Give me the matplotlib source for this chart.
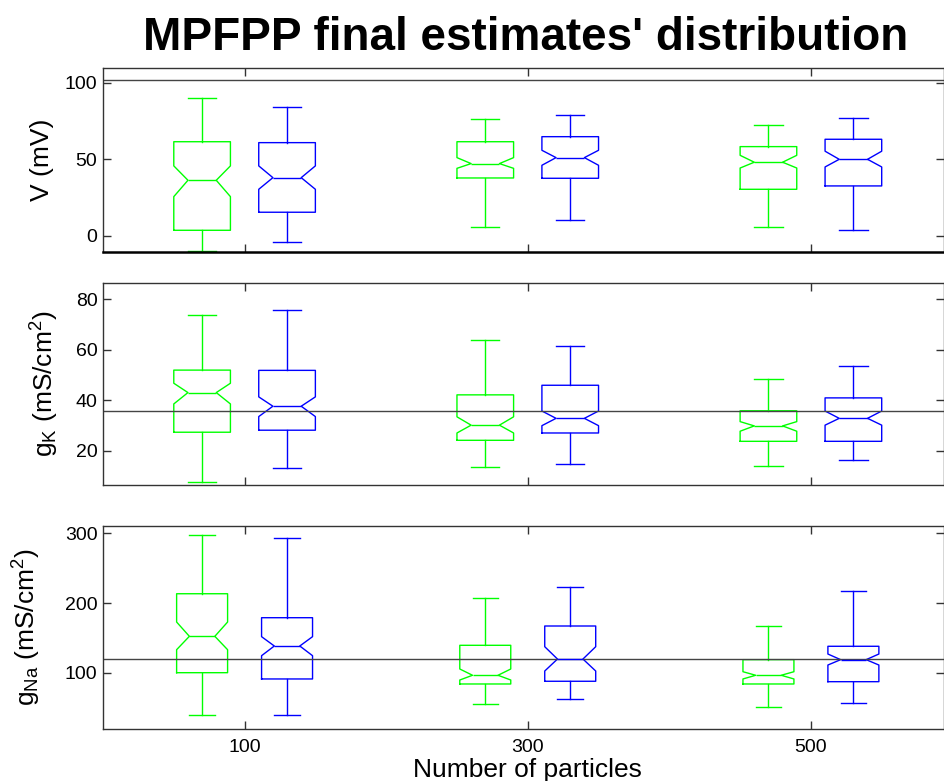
# Notched box plots of the MPFPP final estimates for three particle counts

import matplotlib
matplotlib.use("Agg")
import matplotlib.pyplot as plt

plt.rcParams["font.family"] = ["Liberation Sans", "DejaVu Sans"]
plt.rcParams["mathtext.fontset"] = "custom"
plt.rcParams["mathtext.rm"] = "Liberation Sans"
plt.rcParams["mathtext.it"] = "Liberation Sans:italic"

particles = ["100", "300", "500"]

# each row: lower whisker, q1, notch low, median, notch high, q3, upper whisker
v_green = [
    [-9.8, 3.5, 25.5, 36.2, 45.6, 61.4, 90.2],
    [5.5, 37.7, 44.0, 47.1, 51.0, 61.4, 76.1],
    [5.5, 30.3, 44.2, 48.0, 52.5, 58.2, 72.2],
]
v_blue = [
    [-4.3, 15.3, 30.3, 37.9, 45.6, 60.8, 84.3],
    [10.0, 37.5, 46.0, 51.0, 55.8, 64.7, 78.7],
    [3.5, 32.5, 44.9, 49.9, 55.2, 63.0, 77.1],
]
gk_green = [
    [7.6, 27.4, 38.6, 43.1, 46.8, 52.0, 73.7],
    [13.5, 24.2, 27.1, 30.2, 33.5, 42.2, 63.9],
    [14.2, 23.8, 27.8, 29.9, 31.6, 35.9, 48.5],
]
gk_blue = [
    [13.2, 28.2, 33.6, 37.7, 41.4, 51.9, 75.9],
    [15.0, 27.1, 30.0, 32.9, 35.8, 46.0, 61.4],
    [16.3, 23.8, 30.2, 32.9, 35.8, 41.0, 53.5],
]
gna_green = [
    [38.9, 100.0, 133.0, 152.2, 172.7, 213.3, 297.6],
    [54.7, 83.8, 89.5, 96.3, 105.3, 139.3, 206.7],
    [51.2, 83.8, 91.0, 96.3, 101.4, 118.7, 167.4],
]
gna_blue = [
    [38.9, 91.0, 124.4, 138.3, 151.7, 178.9, 293.3],
    [61.8, 87.7, 102.4, 119.6, 137.3, 167.0, 222.5],
    [57.0, 87.1, 111.0, 118.7, 126.8, 137.9, 216.8],
]

# reference (true) values drawn as horizontal lines
v_ref = 101.8
gk_ref = 36
gna_ref = 120

keys = ["whislo", "q1", "cilo", "med", "cihi", "q3", "whishi"]


def to_stats(rows):
    return [dict(zip(keys, r), fliers=[]) for r in rows]


W, H = 945, 781
fig = plt.figure(figsize=(W / 100, H / 100), dpi=100)


def make_ax(top, bottom):
    return fig.add_axes([103 / W, 1 - bottom / H, 841 / W, (bottom - top) / H])


panels = [
    (make_ax(68.3, 251.7), v_green, v_blue, v_ref, (-10.5, 109.4), [0, 50, 100],
     "V (mV)", -0.058, 0.2),
    (make_ax(283, 485), gk_green, gk_blue, gk_ref, (6.5, 86.5), [20, 40, 60, 80],
     r"g$_\mathregular{K}$ (mS/cm$^\mathregular{2}$)", -0.05, 0.2),
    (make_ax(526, 729), gna_green, gna_blue, gna_ref, (19.2, 310.5), [100, 200, 300],
     r"g$_\mathregular{Na}$ (mS/cm$^\mathregular{2}$)", -0.071, 0.18),
]

pos = [1, 2, 3]
for i, (ax, green, blue, ref, ylim, yticks, ylabel, labx, w) in enumerate(panels):
    for data, color, off in [(green, "#00ff00", -0.15), (blue, "#0000ff", 0.15)]:
        lp = dict(color=color, linewidth=1)
        ax.bxp(to_stats(data), positions=[p + off for p in pos], widths=w,
               shownotches=True, showfliers=False, manage_ticks=False,
               boxprops=lp, whiskerprops=lp, capprops=lp, medianprops=lp)
    ax.axhline(ref, color="#444444", linewidth=1)
    ax.set_xlim(0.5, 3.47)
    ax.set_ylim(*ylim)
    ax.set_yticks(yticks)
    ax.set_xticks(pos)
    if i == 2:
        ax.set_xticklabels(particles)
    else:
        ax.set_xticklabels([])
    ax.tick_params(direction="in", length=6, width=1, color="#333333",
                   top=True, right=True, labelsize=14, pad=4)
    ax.tick_params(axis="x", pad=7)
    for s in ax.spines.values():
        s.set_color("#333333")
        s.set_linewidth(1)
    ax.set_ylabel(ylabel, fontsize=19)
    ax.yaxis.set_label_coords(labx, 0.5)

panels[0][0].spines["bottom"].set_color("black")
panels[0][0].spines["bottom"].set_linewidth(1.8)

fig.text(526 / W, 1 - 50 / H, "MPFPP final estimates' distribution",
         ha="center", va="baseline", fontsize=33, fontweight="bold")
fig.text(527 / W, 1 - 777 / H, "Number of particles",
         ha="center", va="baseline", fontsize=19)

fig.savefig("out.png", dpi=100)
